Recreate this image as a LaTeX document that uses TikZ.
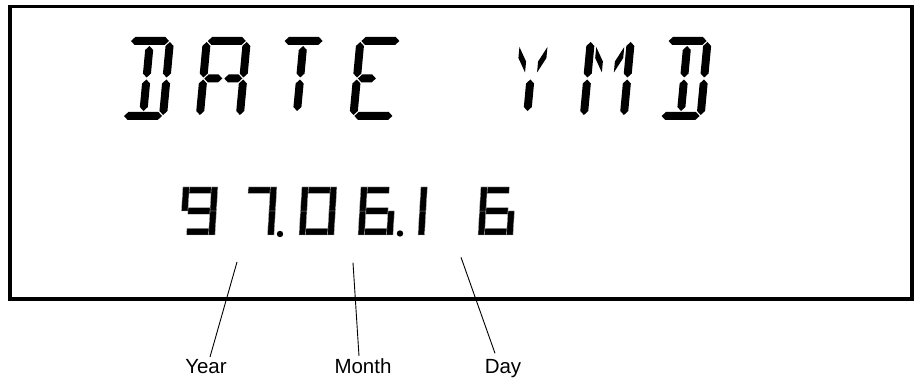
\documentclass[tikz,border=0pt]{standalone}
\usepackage{fontspec}
\setmainfont{Liberation Sans}
\newcommand\bigHseg[3]{\fill[segfill] ({#1+1},#3) -- ({#1+5},{#3+4}) -- ({#2-5},{#3+4}) -- ({#2-1},#3) -- ({#2-5},{#3-4}) -- ({#1+5},{#3-4}) -- cycle;}
\newcommand\bigVseg[3]{\fill[segfill] (#1,{#2-1}) -- ({#1+4},{#2-5}) -- ({#1+4},{#3+5}) -- (#1,{#3+1}) -- ({#1-4},{#3+5}) -- ({#1-4},{#2-5}) -- cycle;}
\newcommand\segA{\bigHseg{0}{40}{75}}
\newcommand\segD{\bigHseg{0}{40}{0}}
\newcommand\segGa{\bigHseg{0}{20}{37.5}}
\newcommand\segGb{\bigHseg{20}{40}{37.5}}
\newcommand\segF{\bigVseg{0}{75}{37.5}}
\newcommand\segE{\bigVseg{0}{37.5}{0}}
\newcommand\segB{\bigVseg{40}{75}{37.5}}
\newcommand\segC{\bigVseg{40}{37.5}{0}}
\newcommand\segI{\bigVseg{20}{71}{37.5}}
\newcommand\segL{\bigVseg{20}{37.5}{4}}
\newcommand\segH{\fill[segfill] (6,69) -- (6,58) -- (14,43.5) -- (14,54.5) -- cycle;}
\newcommand\segJ{\fill[segfill] (34,69) -- (34,58) -- (26,43.5) -- (26,54.5) -- cycle;}
% small 7-segment digits
\newcommand\dseg[4]{\fill[digseg] (#1,#2) rectangle (#3,#4);}
\newcommand\da{\dseg{6.5}{41.5}{28.5}{48}}
\newcommand\dg{\dseg{6.5}{20.75}{28.5}{27.25}}
\newcommand\dd{\dseg{6.5}{0}{28.5}{6.5}}
\newcommand\df{\dseg{0}{24}{6.5}{48}}
\newcommand\de{\dseg{0}{0}{6.5}{24}}
\newcommand\db{\dseg{28.5}{24}{35}{48}}
\newcommand\dc{\dseg{28.5}{0}{35}{24}}
\begin{document}
\begin{tikzpicture}[x=1pt,y=1pt,
  segfill/.style={fill=black},
  digseg/.style={fill=black,draw=gray!55,line width=0.35pt},
  frame/.style={draw=black,line width=3.6pt},
  pointer/.style={draw=black,line width=0.9pt},
  lbl/.style={font=\fontsize{20.5}{24}\selectfont,inner sep=0pt,anchor=base},
  bigchar/.style={shift={({123+76.8*#1},269)},xslant=0.0933},
  digit/.style={shift={(#1,150)},xslant=0.06}]
\useasboundingbox (0,0) rectangle (914,385);
\draw[frame] (10,378.3) rectangle (912,86);
% DATE
\begin{scope}[bigchar=0] \segA\segB\segC\segD\segI\segL \end{scope}
\begin{scope}[bigchar=1] \segA\segB\segC\segE\segF\segGa\segGb \end{scope}
\begin{scope}[bigchar=2] \segA\segI\segL \end{scope}
\begin{scope}[bigchar=3] \segA\segD\segE\segF\segGa \end{scope}
% YMD
\begin{scope}[bigchar=5] \segH\segJ\segL \end{scope}
\begin{scope}[bigchar=6] \segB\segC\segE\segF\segH\segJ \end{scope}
\begin{scope}[bigchar=7] \segA\segB\segC\segD\segI\segL \end{scope}
% 97.06.16
\begin{scope}[digit=180] \da\db\dc\dd\df\dg \end{scope}
\begin{scope}[digit=239] \da\db\dc \end{scope}
\begin{scope}[digit=299] \da\db\dc\dd\de\df \end{scope}
\begin{scope}[digit=358] \da\dc\dd\de\df\dg \end{scope}
\begin{scope}[digit=418] \de\df \end{scope}
\begin{scope}[digit=478] \da\dc\dd\de\df\dg \end{scope}
\fill (280,151) circle (3.2);
\fill (400,151.5) circle (3.2);
% labels
\node[lbl] (year) at (206,11.5) {Year};
\node[lbl] (month) at (363,11.5) {Month};
\node[lbl] (day) at (503,11.5) {Day};
\coordinate (yeartop) at (237,123);
\coordinate (yearbot) at (210,28);
\coordinate (monthtop) at (353,122.3);
\coordinate (monthbot) at (359,29);
\coordinate (daytop) at (461,127.7);
\coordinate (daybot) at (495,31.7);
\draw[pointer] (yeartop) -- (yearbot);
\draw[pointer] (monthtop) -- (monthbot);
\draw[pointer] (daytop) -- (daybot);
\end{tikzpicture}
\end{document}
